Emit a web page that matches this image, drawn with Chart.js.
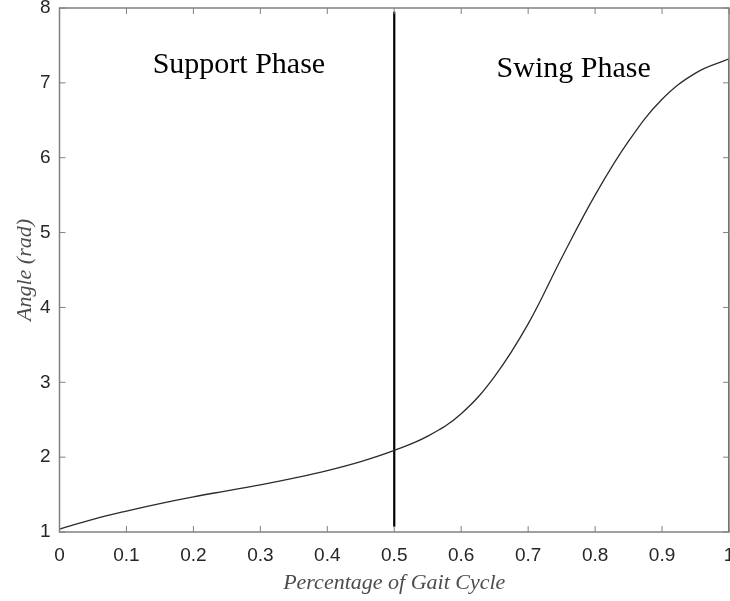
<!DOCTYPE html>
<html>
<head>
<meta charset="utf-8">
<script src="https://cdn.jsdelivr.net/npm/chart.js@4"></script>
<style>
  html, body { margin: 0; padding: 0; background: #fff; }
  #wrap { width: 730px; height: 601px; }
</style>
</head>
<body>
<div id="wrap"><canvas id="myChart" width="730" height="601"></canvas></div>
<script>
const ctx = document.getElementById('myChart').getContext('2d');

// gait cycle fraction vs angle
var gaitX = [0, 0.05, 0.1, 0.15, 0.2, 0.25, 0.3, 0.35, 0.4, 0.45, 0.5,
             0.55, 0.6, 0.65, 0.7, 0.75, 0.8, 0.85, 0.9, 0.95, 1.0];
var angle = [1.04, 1.17, 1.28, 1.38, 1.47, 1.55, 1.63, 1.72, 1.82, 1.94, 2.09,
             2.28, 2.58, 3.08, 3.78, 4.66, 5.50, 6.22, 6.78, 7.13, 7.32];

// phase divider at 50% and the closing drop at 100%
var dividerX = [0.5, 0.5];
var dividerY = [1.07, 7.95];
var endX = [1, 1];
var endY = [7.32, 1];

var xTicks = [0, 0.1, 0.2, 0.3, 0.4, 0.5, 0.6, 0.7, 0.8, 0.9, 1];
var yTicks = [1, 2, 3, 4, 5, 6, 7, 8];

var phaseLabels = ['Support Phase', 'Swing Phase'];
var phaseX = [0.268, 0.768];
var phaseY = [7.13, 7.08];

function pts(xs, ys) {
    var out = [];
    for (let i = 0; i < xs.length; i++) {
        out.push({x: xs[i], y: ys[i]});
    }
    return out;
}

// box + inward ticks like matlab, plus the phase text
const boxPlugin = {
    id: 'boxPlugin',
    afterDatasetsDraw(chart) {
        const c = chart.ctx;
        const a = chart.chartArea;
        const xs = chart.scales.x, ys = chart.scales.y;
        c.save();
        c.strokeStyle = '#808080';
        c.lineWidth = 1.5;
        c.strokeRect(a.left, a.top, a.right - a.left, a.bottom - a.top);
        c.beginPath();
        xTicks.forEach(function (t) {
            let px = xs.getPixelForValue(t);
            c.moveTo(px, a.bottom); c.lineTo(px, a.bottom - 6);
            c.moveTo(px, a.top); c.lineTo(px, a.top + 6);
        });
        yTicks.forEach(function (t) {
            let py = ys.getPixelForValue(t);
            c.moveTo(a.left, py); c.lineTo(a.left + 6, py);
            c.moveTo(a.right, py); c.lineTo(a.right - 6, py);
        });
        c.lineWidth = 1;
        c.stroke();

        c.fillStyle = '#000';
        c.font = '30px "Liberation Serif", "Times New Roman", serif';
        c.textAlign = 'center';
        c.textBaseline = 'alphabetic';
        for (let i = 0; i < phaseLabels.length; i++) {
            c.fillText(phaseLabels[i], xs.getPixelForValue(phaseX[i]), ys.getPixelForValue(phaseY[i]));
        }
        c.restore();
    }
};

const myChart = new Chart(ctx, {
    type: 'line',
    data: {
        datasets: [{
            data: pts(gaitX, angle),
            borderColor: '#2b2b2b',
            borderWidth: 1.3,
            pointRadius: 0,
            tension: 0.4
        }, {
            data: pts(dividerX, dividerY),
            borderColor: '#000',
            borderWidth: 2.2,
            pointRadius: 0
        }, {
            data: pts(endX, endY),
            borderColor: '#333',
            borderWidth: 1.8,
            pointRadius: 0
        }]
    },
    options: {
        responsive: false,
        animation: false,
        layout: { padding: { top: 8, right: 1, left: 0, bottom: 0 } },
        plugins: {
            legend: { display: false },
            tooltip: { enabled: false }
        },
        scales: {
            x: {
                type: 'linear',
                min: 0,
                max: 1,
                grid: { display: false, drawTicks: false },
                border: { display: false },
                afterBuildTicks: function (s) { s.ticks = xTicks.map(v => ({value: v})); },
                afterFit: function (s) { s.height = 69; s.paddingLeft = 0; s.paddingRight = 0; },
                ticks: {
                    padding: 12,
                    maxRotation: 0,
                    autoSkip: false,
                    color: '#262626',
                    font: { family: '"Liberation Sans", Arial, sans-serif', size: 19 },
                    callback: v => String(v)
                },
                title: {
                    display: true,
                    text: 'Percentage of Gait Cycle',
                    color: '#4d4d4d',
                    padding: { top: 0, bottom: 5 },
                    font: { family: '"Liberation Serif", "Times New Roman", serif', size: 22, style: 'italic' }
                }
            },
            y: {
                min: 1,
                max: 8,
                grid: { display: false, drawTicks: false },
                border: { display: false },
                afterBuildTicks: function (s) { s.ticks = yTicks.map(v => ({value: v})); },
                afterFit: function (s) { s.width = 59.5; s.paddingTop = 0; s.paddingBottom = 0; },
                ticks: {
                    padding: 9,
                    color: '#262626',
                    font: { family: '"Liberation Sans", Arial, sans-serif', size: 19 }
                },
                title: {
                    display: true,
                    text: 'Angle (rad)',
                    color: '#4d4d4d',
                    padding: { top: 12, bottom: 0 },
                    font: { family: '"Liberation Serif", "Times New Roman", serif', size: 22, style: 'italic' }
                }
            }
        }
    },
    plugins: [boxPlugin]
});
</script>
</body>
</html>
